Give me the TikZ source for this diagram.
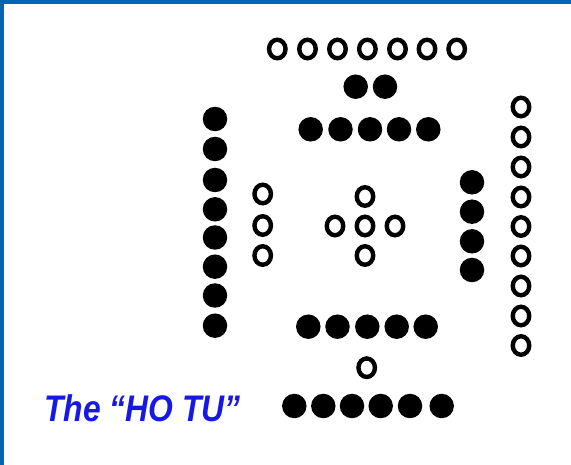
\documentclass[tikz,border=0pt]{standalone}
\usepackage{fontspec}
\usepackage{tikz}
\usetikzlibrary{shapes.geometric}
\newfontfamily\titlefont{Liberation Sans}
\definecolor{frameblue}{RGB}{0,102,179}
\definecolor{titleblue}{RGB}{24,24,228}

\begin{document}
\begin{tikzpicture}[x=1pt,y=-1pt,
	yangdot/.style={ellipse,draw=black,fill=white,line width=4.4pt,inner sep=0pt,minimum width=16.5pt,minimum height=18.5pt},
	yindot/.style={circle,fill=black,inner sep=0pt,minimum size=24.5pt}]
			\useasboundingbox (0,0) rectangle (571,465);
			\fill[white] (0,0) rectangle (571,465);
			\fill[frameblue] (0,0) rectangle (571,4);
			\fill[frameblue] (0,0) rectangle (4,465);
			% top: seven
			\node[yangdot] (t1) at (277.3,49) {}; \node[yangdot] (t2) at (307.5,49) {};
			\node[yangdot] (t3) at (337.5,49) {}; \node[yangdot] (t4) at (367.4,49) {};
			\node[yangdot] (t5) at (397.5,49) {}; \node[yangdot] (t6) at (427,49) {};
			\node[yangdot] (t7) at (456.7,49) {};
			\node[yindot] (u1) at (355.7,86.7) {}; \node[yindot] (u2) at (385,86.7) {};
			\node[yindot] (v1) at (310.7,129.3) {}; \node[yindot] (v2) at (340.5,129.3) {};
			\node[yindot] (v3) at (370,129.3) {}; \node[yindot] (v4) at (399,129.3) {};
			\node[yindot] (v5) at (428.3,129.3) {};
			% left: eight and three
			\node[yindot] (l1) at (215,119) {}; \node[yindot] (l2) at (215,149) {};
			\node[yindot] (l3) at (215,180) {}; \node[yindot] (l4) at (215,209.3) {};
			\node[yindot] (l5) at (215,237.5) {}; \node[yindot] (l6) at (215,266.7) {};
			\node[yindot] (l7) at (215,295.5) {}; \node[yindot] (l8) at (215,325.7) {};
			\node[yangdot] (k1) at (262.7,194) {}; \node[yangdot] (k2) at (262.7,225.5) {};
			\node[yangdot] (k3) at (262.7,255.5) {};
			% centre: five
			\node[yangdot] (c) at (365,226) {};
			\node[yangdot] (cn) at (365,196.5) {}; \node[yangdot] (cs) at (365,255.5) {};
			\node[yangdot] (cw) at (335,226) {}; \node[yangdot] (ce) at (395,226) {};
			% right: four and nine
			\node[yindot] (r1) at (472,182.3) {}; \node[yindot] (r2) at (472,211.7) {};
			\node[yindot] (r3) at (472,241.3) {}; \node[yindot] (r4) at (472,270) {};
			\node[yangdot] (s1) at (521,107) {}; \node[yangdot] (s2) at (521,137) {};
			\node[yangdot] (s3) at (521,167) {}; \node[yangdot] (s4) at (521,197) {};
			\node[yangdot] (s5) at (521,226.5) {}; \node[yangdot] (s6) at (521,256) {};
			\node[yangdot] (s7) at (521,286) {}; \node[yangdot] (s8) at (521,316) {};
			\node[yangdot] (s9) at (521,345.5) {};
			% bottom: ten, one and six
			\node[yindot] (b1) at (308.3,326.7) {}; \node[yindot] (b2) at (337.5,326.7) {};
			\node[yindot] (b3) at (367.3,326.7) {}; \node[yindot] (b4) at (396.7,326.7) {};
			\node[yindot] (b5) at (425.7,326.7) {};
			\node[yangdot] (d) at (366.7,367.7) {};
			\node[yindot] (e1) at (294.3,406) {}; \node[yindot] (e2) at (323.3,406) {};
			\node[yindot] (e3) at (352,406) {}; \node[yindot] (e4) at (380.7,406) {};
			\node[yindot] (e5) at (410,406) {}; \node[yindot] (e6) at (441.7,406) {};
			\node[anchor=base west,inner sep=0pt,text=titleblue,xscale=0.86,
				font=\titlefont\bfseries\itshape\fontsize{37}{40}\selectfont] (title) at (44,421.7) {The “HO TU”};
		\end{tikzpicture}
\end{document}
